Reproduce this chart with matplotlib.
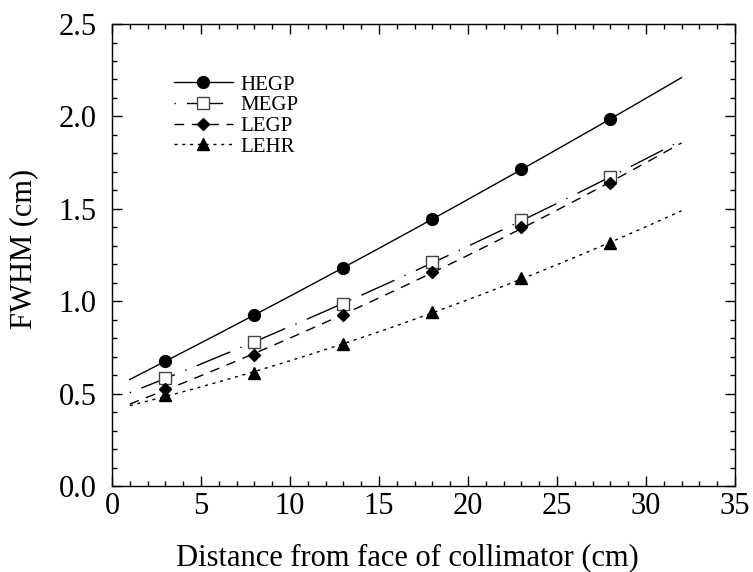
import numpy as np
import matplotlib
matplotlib.use("Agg")
import matplotlib.pyplot as plt
from matplotlib.ticker import MultipleLocator, FormatStrFormatter

plt.rcParams['font.family'] = ['Liberation Serif', 'DejaVu Serif']

# Source distance (cm) and measured FWHM (cm) per collimator
distance = [3, 8, 13, 18, 23, 28]
hegp = [0.676, 0.925, 1.18, 1.445, 1.715, 1.985]
megp = [0.584, 0.779, 0.985, 1.21, 1.44, 1.67]
legp = [0.525, 0.709, 0.925, 1.16, 1.40, 1.64]
lehr = [0.49, 0.61, 0.77, 0.94, 1.125, 1.315]
fit_range = [1, 32]

series = [
    ("HEGP", hegp, dict(marker='o', mfc='black', mec='black', ms=8.5), '-'),
    ("MEGP", megp, dict(marker='s', mfc='white', mec='#444444', ms=8.5, mew=1.0), (34, (26, 8, 1, 8))),
    ("LEGP", legp, dict(marker='D', mfc='black', mec='black', ms=6.5), (0, (7, 5.5))),
    ("LEHR", lehr, dict(marker='^', mfc='black', mec='black', ms=8.5), (0, (2.2, 3.4))),
]

fig = plt.figure(figsize=(7.53, 5.72), dpi=100)
ax = fig.add_axes([0.1487, 0.1503, 0.8273, 0.8077])

xf = np.linspace(fit_range[0], fit_range[1], 200)
for name, vals, mk, ls in series:
    coef = np.polyfit(distance, vals, 2)
    ax.plot(xf, np.polyval(coef, xf), color='black', lw=1.0, ls=ls)
    ax.plot(distance, vals, ls='none', **mk)
    # legend entry combining the fit line and its marker
    ax.plot([], [], color='black', lw=1.0, ls=ls, label=name, **mk)

ax.set_xlim(0, 35)
ax.set_ylim(0, 2.5)
ax.xaxis.set_major_locator(MultipleLocator(5))
ax.xaxis.set_minor_locator(MultipleLocator(1))
ax.yaxis.set_major_locator(MultipleLocator(0.5))
ax.yaxis.set_minor_locator(MultipleLocator(0.1))
ax.yaxis.set_major_formatter(FormatStrFormatter('%.1f'))
ax.tick_params(which='both', direction='in', top=True, right=True, labelsize=22, width=1.0)
ax.tick_params(which='major', length=7)
ax.tick_params(which='minor', length=3.5)
ax.tick_params(axis='x', which='major', pad=4)
ax.tick_params(axis='y', which='major', pad=11)
for sp in ax.spines.values():
    sp.set_linewidth(1.0)

ax.set_xlabel('Distance from face of collimator (cm)', fontsize=22, labelpad=16.5, x=0.474)
ax.set_ylabel('FWHM (cm)', fontsize=22, labelpad=15, y=0.514)

handles, labels = ax.get_legend_handles_labels()
ax.legend(handles, labels, loc='upper left', bbox_to_anchor=(0.07, 0.93),
          frameon=False, fontsize=15, handlelength=2.8, handletextpad=0.35,
          labelspacing=0.05, numpoints=1)

fig.savefig('out.png', dpi=100)
